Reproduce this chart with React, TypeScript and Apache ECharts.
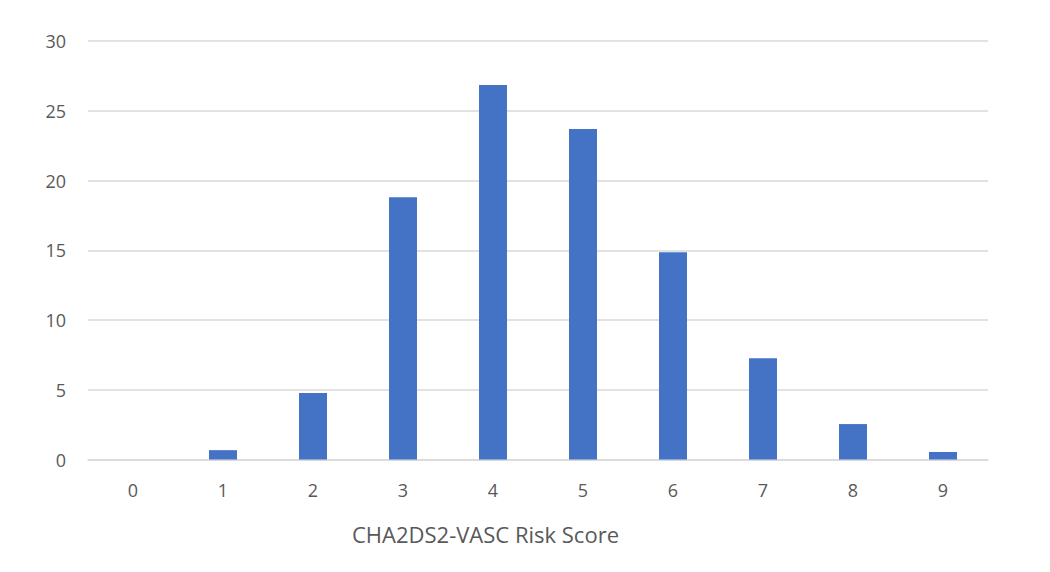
import React, { useEffect, useRef } from "react";
import * as echarts from "echarts";

const categories = ["0", "1", "2", "3", "4", "5", "6", "7", "8", "9"];
const values = [0, 0.67, 4.77, 18.8, 26.85, 23.7, 14.85, 7.25, 2.54, 0.54];
const axisTitle = "CHA2DS2-VASC Risk Score";

export default function App() {
  const ref = useRef<HTMLDivElement>(null);
  useEffect(() => {
    const chart = echarts.init(ref.current!, null, { renderer: "svg" });
    chart.setOption({
      animation: false,
      backgroundColor: "#ffffff",
      grid: { left: 88, right: 62, top: 41, bottom: 112.5, containLabel: false },
      xAxis: {
        type: "category",
        data: categories,
        axisLine: { show: true, lineStyle: { color: "#d9d9d9", width: 1.5 } },
        axisTick: { show: false },
        axisLabel: { color: "#595959", fontSize: 18, fontFamily: "Open Sans", margin: 21 },
      },
      yAxis: {
        type: "value",
        min: 0,
        max: 30,
        interval: 5,
        axisLine: { show: false },
        axisTick: { show: false },
        axisLabel: { color: "#595959", fontSize: 18, fontFamily: "Open Sans", margin: 22 },
        splitLine: { lineStyle: { color: "#d9d9d9", width: 1.5 } },
      },
      graphic: [
        {
          type: "text",
          left: 352,
          top: 523,
          style: {
            text: axisTitle,
            fill: "#595959",
            font: "22px 'Open Sans'",
          },
        },
      ],
      series: [
        {
          type: "bar",
          data: values,
          barWidth: 28,
          itemStyle: { color: "#4472C4" },
        },
      ],
    });
    return () => chart.dispose();
  }, []);
  return (
    <div
      ref={ref}
      style={{ position: "fixed", left: 0, top: 0, width: 1050, height: 572 }}
    />
  );
}
